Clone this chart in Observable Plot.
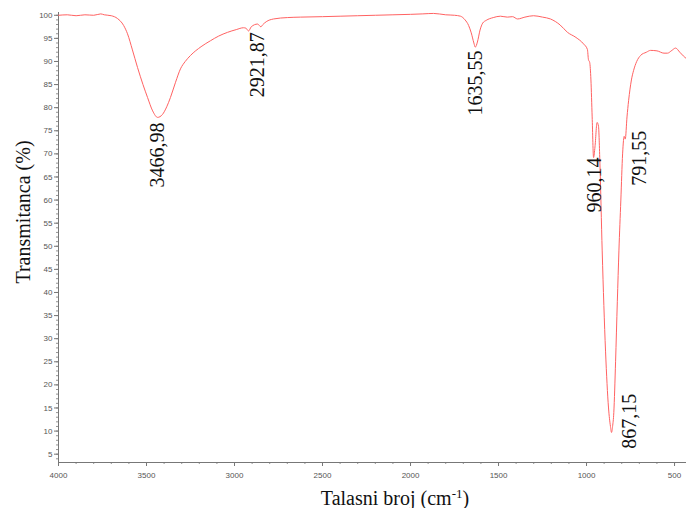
<!DOCTYPE html>
<html>
<head>
<meta charset="utf-8">
<script src="https://cdn.jsdelivr.net/npm/d3@7"></script>
<script src="https://cdn.jsdelivr.net/npm/@observablehq/plot@0.6"></script>
<style>
  html, body { margin: 0; padding: 0; background: #fff; }
  #chart { width: 686px; height: 508px; }
  .serif { font-family: "Liberation Serif", "Times New Roman", serif !important; }
</style>
</head>
<body>
<div id="chart"></div>
<script>
// Wavenumber (cm-1) and transmittance (%)
const wavenumber = [4000, 3950, 3900, 3850, 3800, 3760, 3740, 3700, 3665, 3630, 3608, 3580, 3551, 3520, 3494, 3465, 3437, 3410, 3385, 3364, 3335, 3307, 3280, 3250, 3190, 3136, 3090, 3040, 2990, 2949, 2935, 2920, 2905, 2869, 2850, 2841, 2820, 2778, 2700, 2625, 2500, 2400, 2300, 2200, 2100, 2000, 1930, 1869, 1800, 1750, 1716, 1690, 1670, 1655, 1640, 1632, 1620, 1605, 1590, 1570, 1530, 1489, 1450, 1420, 1392, 1350, 1301, 1250, 1205, 1150, 1108, 1060, 1017, 995, 989, 982, 975, 968, 960, 952, 940, 932, 924, 911, 892, 875, 864, 858, 852, 845, 835, 825, 816, 805, 795, 790, 786, 780, 770, 761, 745, 733, 715, 693, 660, 636, 600, 560, 540, 515, 494, 470, 450, 432];
const transmittance = [100.0, 100.1, 99.9, 100.1, 100.0, 100.3, 100.1, 99.9, 99.3, 97.8, 96.0, 92.5, 88.7, 85.0, 82.2, 79.3, 77.9, 78.5, 80.2, 82.2, 85.5, 88.4, 90.0, 91.3, 93.2, 94.5, 95.5, 96.3, 96.9, 97.3, 97.2, 96.6, 97.5, 98.1, 97.5, 97.9, 98.6, 99.2, 99.5, 99.6, 99.7, 99.8, 99.9, 100.0, 100.1, 100.2, 100.3, 100.4, 100.1, 100.0, 99.8, 99.0, 97.8, 96.2, 94.0, 93.1, 94.2, 96.8, 98.3, 98.9, 99.5, 99.8, 99.6, 99.7, 99.2, 99.6, 99.9, 99.6, 99.2, 97.9, 96.3, 95.2, 93.8, 92.6, 90.4, 89.8, 86.0, 78.0, 69.2, 71.5, 76.8, 76.0, 68.0, 49.0, 27.3, 15.0, 11.0, 9.7, 11.0, 14.0, 25.0, 38.0, 49.0, 60.0, 70.0, 72.9, 73.8, 73.2, 78.0, 81.5, 86.0, 88.0, 90.0, 91.3, 92.0, 92.4, 92.3, 91.8, 91.8, 92.4, 92.9, 92.0, 91.2, 90.6];

// Peak annotations
const peakLabels = ["3466,98", "2921,87", "1635,55", "960,14", "867,15", "791,55"];
const peakLabelX = [3437, 2869, 1631, 955, 756, 699];
const peakLabelTop = [76.8, 96.3, 92.4, 69.2, 18.1, 75.0];

// Axis ticks
const yTicks = d3.range(5, 101, 5);
const yMinorTicks = d3.range(4, 101, 1);
const xTicks = [4000, 3500, 3000, 2500, 2000, 1500, 1000, 500];
const xMinorTicks = d3.range(500, 4001, 100);

const xDomain = [4000, 432];
const yDomain = [3.2, 100.6];

const spectrum = wavenumber.map((w, i) => ({w, t: transmittance[i]}));
const peaks = peakLabels.map((label, i) => ({label, w: peakLabelX[i], t: peakLabelTop[i]}));

const axisColor = "#777";
const tickFont = "'Liberation Sans', Arial, sans-serif";
const serif = "'Liberation Serif', 'Times New Roman', serif";

const chart = Plot.plot({
  width: 686,
  height: 508,
  marginLeft: 58,
  marginRight: 0,
  marginTop: 12,
  marginBottom: 46,
  style: {background: "#fff", fontFamily: tickFont},
  x: {type: "linear", domain: xDomain, label: null},
  y: {type: "linear", domain: yDomain, label: null},
  marks: [
    Plot.ruleX([xDomain[0]], {stroke: axisColor, strokeWidth: 1}),
    Plot.ruleY([yDomain[0]], {stroke: axisColor, strokeWidth: 1}),
    Plot.axisY({ticks: yMinorTicks, tickSize: 2, tickFormat: () => "", stroke: axisColor, strokeWidth: 0.8, label: null}),
    Plot.axisY({ticks: yTicks, tickSize: 4, tickPadding: 2, fontSize: 8, color: "#555", stroke: axisColor, label: null}),
    Plot.axisX({ticks: xMinorTicks, tickSize: 2, tickFormat: () => "", stroke: axisColor, strokeWidth: 0.8, label: null}),
    Plot.axisX({ticks: xTicks, tickSize: 4, tickPadding: 6, fontSize: 8, color: "#555", stroke: axisColor, label: null, tickFormat: d => String(d)}),
    Plot.line(spectrum, {x: "w", y: "t", stroke: "#ff6262", strokeWidth: 1, curve: "monotone-x"}),
    Plot.text(peaks, {x: "w", y: "t", text: "label", rotate: -90, textAnchor: "end", lineAnchor: "middle", fontSize: 20, fontFamily: serif, fill: "#111", className: "serif"})
  ]
});

const svg = d3.select(chart);
svg.selectAll("g[aria-label='text'] text").attr("class", "serif");

svg.append("text")
  .attr("class", "serif")
  .attr("transform", "translate(23,212) rotate(-90)")
  .attr("text-anchor", "middle")
  .attr("dominant-baseline", "central")
  .attr("font-size", 20)
  .attr("fill", "#111")
  .text("Transmitanca (%)");

const xl = svg.append("text")
  .attr("class", "serif")
  .attr("x", 395)
  .attr("y", 505)
  .attr("text-anchor", "middle")
  .attr("font-size", 20)
  .attr("fill", "#111");
xl.append("tspan").text("Talasni broj (cm");
xl.append("tspan").attr("dy", -7).attr("font-size", 13).text("-1");
xl.append("tspan").attr("dy", 7).text(")");

document.getElementById("chart").appendChild(chart);
</script>
</body>
</html>
